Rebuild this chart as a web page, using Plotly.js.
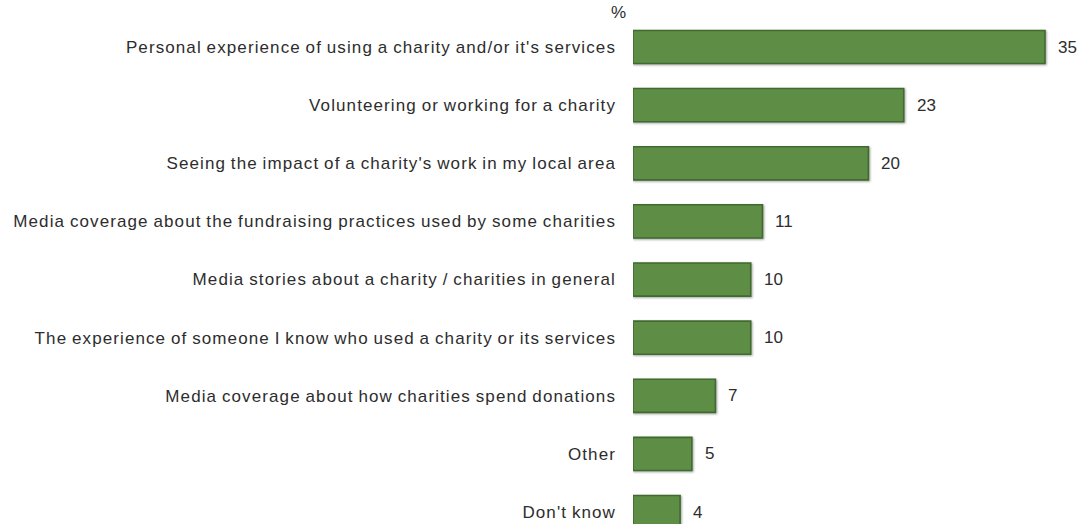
<!DOCTYPE html>
<html>
<head>
<meta charset="utf-8">
<script src="https://cdn.plot.ly/plotly-3.0.1.min.js"></script>
<style>
html,body{margin:0;padding:0;background:#fff;}
#chart{width:1077px;height:524px;}
#chart .ytick text{letter-spacing:1.1px;word-spacing:-1px;}
#chart .bars .point path{filter:drop-shadow(1px 1px 1px rgba(0,0,0,0.35));}
</style>
</head>
<body>
<div id="chart"></div>
<script>
const categories = [
  "Personal experience of using a charity and/or it's services",
  "Volunteering or working for a charity",
  "Seeing the impact of a charity's work in my local area",
  "Media coverage about the fundraising practices used by some charities",
  "Media stories about a charity / charities in general",
  "The experience of someone I know who used a charity or its services",
  "Media coverage about how charities spend donations",
  "Other",
  "Don't know"
];
const values = [35, 23, 20, 11, 10, 10, 7, 5, 4];
const valueLabels = ["35", "23", "20", "11", "10", "10", "7", "5", "4"];
const unitLabel = "%";

const font = {family: "Liberation Sans, Arial, sans-serif", size: 17, color: "#2d2d2d"};

const trace = {
  type: "bar",
  orientation: "h",
  x: values,
  y: categories,
  width: 0.57,
  marker: {color: "#5e8e46", line: {color: "#3f6b2e", width: 1.6}},
  hoverinfo: "skip"
};

const annotations = values.map((v, i) => ({
  x: v, y: categories[i], xref: "x", yref: "y",
  text: valueLabels[i], showarrow: false, xanchor: "left", xshift: 11,
  font: font
}));
annotations.push({
  xref: "paper", yref: "paper", x: 0, y: 1, xanchor: "center", yanchor: "bottom",
  xshift: -15, yshift: -6,
  text: unitLabel, showarrow: false, font: font
});

const layout = {
  width: 1077, height: 524,
  margin: {l: 633, r: 0, t: 18, b: 0},
  paper_bgcolor: "#ffffff", plot_bgcolor: "#ffffff",
  showlegend: false,
  font: font,
  xaxis: {range: [0, 37.72], showgrid: false, zeroline: false, showticklabels: false, showline: false, ticks: ""},
  yaxis: {type: "category", range: [8.206, -0.499], showgrid: false, zeroline: false, showline: false, ticks: "", ticklabelstandoff: 16, tickfont: font},
  annotations: annotations
};

Plotly.newPlot("chart", [trace], layout, {displayModeBar: false, staticPlot: true});
</script>
</body>
</html>
